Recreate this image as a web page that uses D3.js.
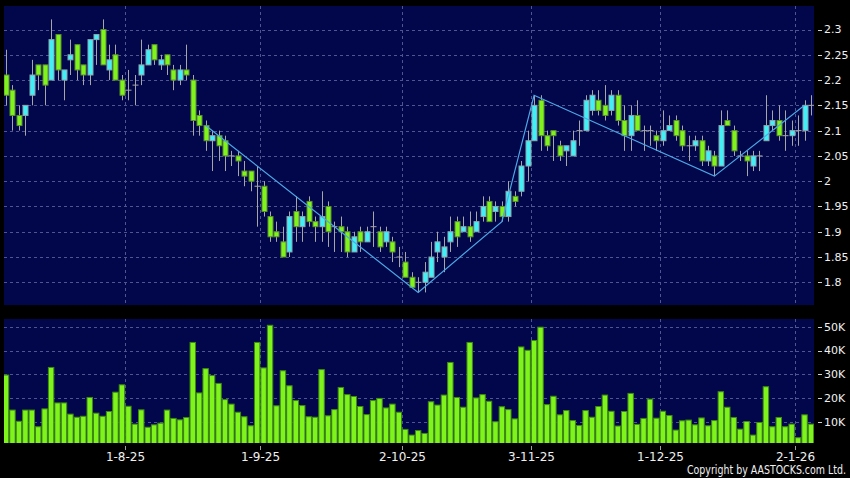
<!DOCTYPE html>
<html lang="en">
<head>
<meta charset="UTF-8">
<title>index</title>
<script src="https://d3js.org/d3.v7.min.js"></script>
<style>
  body { margin: 0; background: #000; }
  text { font-family: 'DejaVu Sans', sans-serif; fill: #f0f0f0; }
</style>
</head>
<body>
<div id="chart"></div>
<script>
// daily OHLC (126 sessions)
var open = [
  2.21,2.18,2.13,2.13,2.17,2.23,2.23,2.20,2.29,2.20,
  2.24,2.27,2.23,2.21,2.28,2.30,2.22,2.25,2.20,2.18,
  2.19,2.21,2.23,2.27,2.23,2.25,2.22,2.20,2.22,2.20,
  2.13,2.11,2.08,2.09,2.08,2.05,2.05,2.02,2.02,1.99,
  1.99,1.93,1.90,1.88,1.86,1.94,1.91,1.96,1.92,1.91,
  1.95,1.91,1.91,1.90,1.86,1.90,1.88,1.91,1.90,1.88,
  1.88,1.85,1.84,1.81,1.80,1.80,1.81,1.86,1.85,1.88,
  1.92,1.90,1.91,1.90,1.93,1.96,1.94,1.95,1.93,1.97,
  1.98,2.03,2.08,2.16,2.09,2.10,2.07,2.06,2.05,2.10,
  2.10,2.14,2.16,2.15,2.14,2.17,2.12,2.09,2.13,2.10,
  2.10,2.09,2.08,2.10,2.12,2.10,2.07,2.07,2.08,2.04,
  2.05,2.03,2.12,2.10,2.05,2.05,2.03,2.05,2.08,2.11,
  2.12,2.09,2.09,2.10,2.10,2.15
];
var close = [
  2.17,2.13,2.11,2.15,2.21,2.21,2.19,2.28,2.22,2.22,
  2.25,2.22,2.21,2.28,2.29,2.23,2.24,2.20,2.17,2.18,
  2.19,2.23,2.26,2.24,2.24,2.23,2.20,2.22,2.21,2.12,
  2.11,2.08,2.09,2.07,2.05,2.05,2.04,2.01,2.00,1.99,
  1.94,1.89,1.89,1.85,1.93,1.91,1.93,1.92,1.91,1.93,
  1.90,1.91,1.90,1.86,1.89,1.88,1.90,1.91,1.87,1.90,
  1.86,1.85,1.81,1.79,1.80,1.82,1.85,1.88,1.87,1.90,
  1.89,1.91,1.89,1.92,1.95,1.92,1.95,1.93,1.98,1.96,
  2.03,2.08,2.15,2.09,2.07,2.09,2.05,2.07,2.08,2.10,
  2.16,2.17,2.14,2.13,2.17,2.12,2.09,2.13,2.10,2.10,
  2.10,2.08,2.10,2.11,2.09,2.07,2.07,2.08,2.04,2.06,
  2.03,2.11,2.11,2.06,2.05,2.04,2.05,2.05,2.11,2.12,
  2.09,2.09,2.10,2.10,2.15,2.15
];
var high = [
  2.26,2.19,2.15,2.15,2.24,2.23,2.23,2.32,2.29,2.22,
  2.28,2.27,2.23,2.28,2.29,2.32,2.27,2.27,2.21,2.22,
  2.21,2.28,2.27,2.27,2.25,2.25,2.23,2.23,2.27,2.21,
  2.14,2.12,2.10,2.10,2.09,2.06,2.06,2.04,2.02,2.03,
  2.00,1.94,1.92,1.91,1.94,1.97,1.94,1.97,1.93,1.98,
  1.96,1.92,1.93,1.91,1.90,1.91,1.91,1.94,1.91,1.91,
  1.89,1.87,1.86,1.82,1.81,1.84,1.88,1.90,1.89,1.93,
  1.93,1.93,1.94,1.94,1.97,1.97,1.96,1.96,2.00,1.98,
  2.04,2.10,2.17,2.17,2.10,2.10,2.08,2.07,2.10,2.12,
  2.17,2.18,2.18,2.19,2.18,2.18,2.15,2.15,2.16,2.11,
  2.11,2.10,2.14,2.13,2.13,2.11,2.09,2.09,2.09,2.07,
  2.06,2.14,2.14,2.11,2.06,2.06,2.06,2.06,2.17,2.14,
  2.15,2.14,2.12,2.13,2.16,2.17
];
var low = [
  2.15,2.10,2.10,2.09,2.15,2.18,2.15,2.20,2.20,2.16,
  2.21,2.20,2.19,2.19,2.23,2.23,2.20,2.20,2.16,2.16,
  2.15,2.19,2.23,2.23,2.22,2.21,2.18,2.19,2.20,2.09,
  2.09,2.06,2.02,2.04,2.02,2.03,2.01,1.99,1.98,1.91,
  1.93,1.88,1.88,1.85,1.85,1.88,1.88,1.91,1.88,1.88,
  1.87,1.86,1.86,1.85,1.86,1.86,1.88,1.87,1.86,1.87,
  1.84,1.83,1.81,1.79,1.78,1.78,1.81,1.84,1.82,1.86,
  1.87,1.90,1.88,1.90,1.92,1.92,1.92,1.92,1.92,1.95,
  1.97,2.00,2.08,2.06,2.06,2.04,2.04,2.03,2.05,2.07,
  2.10,2.13,2.13,2.12,2.13,2.11,2.06,2.06,2.10,2.06,
  2.07,2.06,2.07,2.10,2.08,2.06,2.04,2.06,2.03,2.03,
  2.01,2.03,2.11,2.05,2.04,2.01,2.02,2.02,2.08,2.10,
  2.08,2.06,2.07,2.07,2.08,2.13
];
// volume in thousands
var volume = [
  29.7,15.0,10.3,15.0,15.0,8.0,15.5,32.9,18.0,18.0,
  13.3,12.0,12.4,20.3,13.7,12.4,14.4,22.5,25.6,16.6,
  9.1,15.1,7.8,8.8,9.5,15.0,11.5,10.9,11.9,43.4,
  22.2,32.4,29.5,26.2,19.4,17.5,14.1,12.2,8.4,43.4,
  32.7,50.6,16.8,31.5,25.2,19.0,16.9,12.2,12.0,32.0,
  12.6,15.2,24.5,21.5,20.7,16.5,13.1,19.0,19.9,15.9,
  17.5,14.1,6.9,4.5,6.4,5.2,18.5,17.1,21.3,35.0,
  20.3,16.2,43.4,20.1,21.5,18.7,10.1,16.4,15.2,11.3,
  41.5,40.1,44.2,49.8,17.3,20.8,13.0,14.8,10.6,8.5,
  14.8,12.0,16.5,21.3,14.5,8.3,14.4,22.0,9.0,11.5,
  19.6,11.6,14.5,12.7,6.6,10.5,10.8,8.8,11.7,8.4,
  10.6,22.7,16.2,11.9,7.0,10.2,4.5,9.8,24.8,8.0,
  11.9,8.0,9.1,3.4,13.0,9.1
];
// zigzag turning points (session index, price)
var zzIdx = [31, 64, 77, 82, 110, 124];
var zzVal = [2.11, 1.78, 1.92, 2.17, 2.01, 2.15];

var priceTicks = [1.8,1.85,1.9,1.95,2,2.05,2.1,2.15,2.2,2.25,2.3];
var volTicks = [10,20,30,40,50];
var dateIdx = [18, 39, 61, 81, 101, 122];
var dateLabels = ['1-8-25','1-9-25','2-10-25','3-11-25','1-12-25','2-1-26'];

var width = 850, height = 478;
var left = 4, right = 814;
var pTop = 6, pBottom = 305, vTop = 319, vBottom = 443;

var navy = '#02064a';
var gridColor = '#4f5590';
var upFill = '#3ff0f6', upStroke = '#8fa3ad';
var downFill = '#7ef31c', downStroke = '#5d8f30';
var wickColor = '#a6a6a6';

var N = open.length;
var x = d3.scaleBand().domain(d3.range(N)).range([2.8, 814.2]);
var bw = x.bandwidth();
function cx(i) { return x(i) + bw / 2; }
function gx(i) { return Math.round(x(i) + bw) + 0.5; }

var y = d3.scaleLinear().domain([1.8, 2.3]).range([282.3, 29.5]);
var yv = d3.scaleLinear().domain([0, 50]).range([445.8, 326.7]);

var svg = d3.select('#chart').append('svg')
    .attr('width', width).attr('height', height)
    .style('display', 'block');

svg.append('rect').attr('width', width).attr('height', height).attr('fill', '#000');

var defs = svg.append('defs');
defs.append('clipPath').attr('id', 'clipP').append('rect')
    .attr('x', left).attr('y', pTop).attr('width', right - left).attr('height', pBottom - pTop);
defs.append('clipPath').attr('id', 'clipV').append('rect')
    .attr('x', left).attr('y', vTop).attr('width', right - left).attr('height', vBottom - vTop);

// panels
svg.append('rect').attr('x', left).attr('y', pTop).attr('width', right - left)
    .attr('height', pBottom - pTop).attr('fill', navy);
svg.append('rect').attr('x', left).attr('y', vTop).attr('width', right - left)
    .attr('height', vBottom - vTop).attr('fill', navy);

// grid
var grid = svg.append('g').attr('stroke', gridColor).attr('stroke-dasharray', '3,3')
    .attr('shape-rendering', 'crispEdges');
grid.selectAll('.hp').data(priceTicks).join('line')
    .attr('x1', left).attr('x2', right)
    .attr('y1', d => Math.round(y(d)) + 0.5).attr('y2', d => Math.round(y(d)) + 0.5);
grid.selectAll('.hv').data(volTicks).join('line')
    .attr('x1', left).attr('x2', right)
    .attr('y1', d => Math.round(yv(d)) + 0.5).attr('y2', d => Math.round(yv(d)) + 0.5);
grid.selectAll('.vp').data(dateIdx).join('line')
    .attr('x1', gx).attr('x2', gx).attr('y1', pTop).attr('y2', pBottom);
grid.selectAll('.vv').data(dateIdx).join('line')
    .attr('x1', gx).attr('x2', gx).attr('y1', vTop).attr('y2', vBottom);

// candles
var cg = svg.append('g').attr('clip-path', 'url(#clipP)');
var idx = d3.range(N);
cg.selectAll('.wick').data(idx).join('line')
    .attr('x1', i => Math.round(cx(i)) + 0.5).attr('x2', i => Math.round(cx(i)) + 0.5)
    .attr('y1', i => y(high[i])).attr('y2', i => y(low[i]))
    .attr('stroke', wickColor).attr('stroke-width', 1);
cg.selectAll('.body').data(idx.filter(i => open[i] !== close[i])).join('rect')
    .attr('x', i => Math.round(cx(i)) - 2)
    .attr('width', 5)
    .attr('y', i => y(Math.max(open[i], close[i])))
    .attr('height', i => Math.abs(y(open[i]) - y(close[i])))
    .attr('fill', i => close[i] > open[i] ? upFill : downFill)
    .attr('stroke', i => close[i] > open[i] ? upStroke : downStroke)
    .attr('stroke-width', 1);
cg.selectAll('.doji').data(idx.filter(i => open[i] === close[i])).join('line')
    .attr('x1', i => Math.round(cx(i)) - 2.5).attr('x2', i => Math.round(cx(i)) + 3.5)
    .attr('y1', i => y(open[i])).attr('y2', i => y(open[i]))
    .attr('stroke', wickColor).attr('stroke-width', 1);

// zigzag
cg.append('path')
    .datum(d3.range(zzIdx.length))
    .attr('d', d3.line().x(k => cx(zzIdx[k])).y(k => y(zzVal[k])))
    .attr('fill', 'none').attr('stroke', '#4ca8e6').attr('stroke-width', 1.2);

// volume
var vg = svg.append('g').attr('clip-path', 'url(#clipV)');
vg.selectAll('.vol').data(idx).join('rect')
    .attr('x', i => x(i) + 0.5)
    .attr('width', bw - 1)
    .attr('y', i => yv(volume[i]))
    .attr('height', i => vBottom + 2 - yv(volume[i]))
    .attr('fill', downFill).attr('stroke', '#3e8a14').attr('stroke-width', 1);

// right axis labels
var ax = svg.append('g');
ax.selectAll('.pt').data(priceTicks).join('line')
    .attr('x1', 818).attr('x2', 822)
    .attr('y1', d => Math.round(y(d)) + 0.5).attr('y2', d => Math.round(y(d)) + 0.5)
    .attr('stroke', '#d0d0d0');
ax.selectAll('.pl').data(priceTicks).join('text')
    .attr('x', 824).attr('y', d => y(d)).attr('dy', '0.36em')
    .style('font-size', '11px')
    .text(d => String(+d.toFixed(2)));
ax.selectAll('.vt').data(volTicks).join('line')
    .attr('x1', 818).attr('x2', 822)
    .attr('y1', d => Math.round(yv(d)) + 0.5).attr('y2', d => Math.round(yv(d)) + 0.5)
    .attr('stroke', '#d0d0d0');
ax.selectAll('.vl').data(volTicks).join('text')
    .attr('x', 824).attr('y', d => yv(d)).attr('dy', '0.36em')
    .style('font-size', '11px')
    .text(d => d + 'K');

// date axis
ax.selectAll('.dt').data(dateIdx).join('line')
    .attr('x1', gx).attr('x2', gx).attr('y1', 446).attr('y2', 450)
    .attr('stroke', '#a0a0a0');
ax.selectAll('.dl').data(dateIdx).join('text')
    .attr('x', i => gx(i)).attr('y', 461)
    .attr('text-anchor', 'middle')
    .style('font-size', '12px')
    .text((d, k) => dateLabels[k]);

svg.append('text')
    .attr('x', 846).attr('y', 474)
    .attr('text-anchor', 'end')
    .attr('textLength', 159).attr('lengthAdjust', 'spacingAndGlyphs')
    .style('font-size', '11.5px')
    .text('Copyright by AASTOCKS.com Ltd.');
</script>
</body>
</html>
